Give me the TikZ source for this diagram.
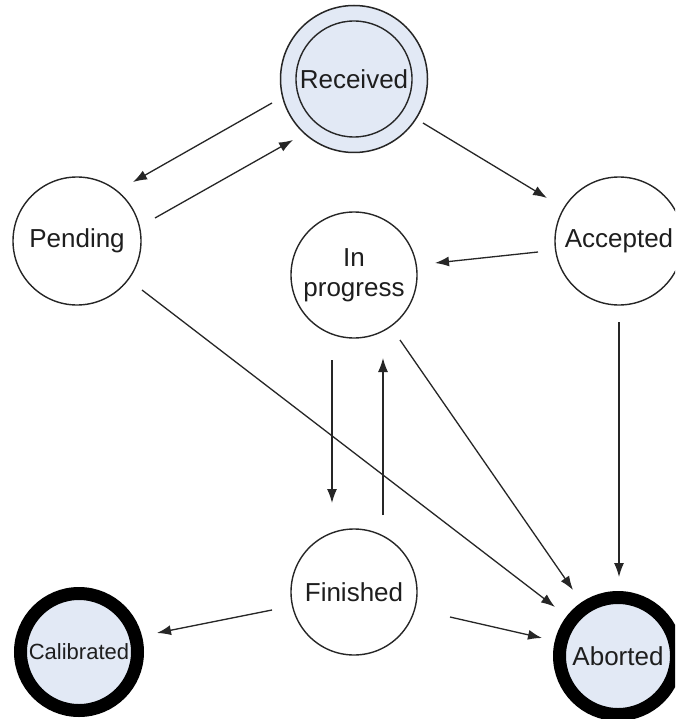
\documentclass[tikz,border=0pt]{standalone}
\usepackage{fontspec}
\setmainfont{Liberation Sans}
\usetikzlibrary{arrows.meta,calc}
\definecolor{stfill}{RGB}{226,233,245}
\definecolor{txt}{RGB}{30,30,30}
\tikzset{
  state/.style={circle,draw=black!85,line width=1.4pt,minimum size=126pt,inner sep=0pt,
    font=\fontsize{26}{30}\selectfont,text=txt,align=center},
  final/.style={circle,draw=black,line width=13pt,fill=stfill,minimum size=117pt,inner sep=0pt,
    font=\fontsize{26}{30}\selectfont,text=txt},
  arr/.style={line width=1.3pt,draw=black!85,-{Latex[length=14pt,width=10pt]}}
}
\begin{document}
\begin{tikzpicture}[x=1pt,y=-1pt]
\clip (0,0) rectangle (675,719);
\fill[white] (0,0) rectangle (675,719);
% nodes
\node[circle,draw=black!85,line width=1.5pt,fill=stfill,minimum size=147pt,inner sep=0pt] (recout) at (354,79) {};
\node[state,fill=stfill,minimum size=116pt] (rec) at (354,79) {Received};
\node[state,minimum size=128pt] (pend) at (77,241) {Pending};
\node[state,minimum size=128pt] (acc) at (619,241) {Accepted};
\node[state] (prog) at (354,275) {In\\progress};
\node[state] (fin) at (354,592) {Finished};
\node[final,font=\fontsize{22}{26}\selectfont] (cal) at (79,652) {Calibrated};
\node[final] (abo) at (618,656) {Aborted};
% connectors
\draw[arr] ($(rec)+(-82,24)$) -- ($(pend)+(56,-59)$);
\draw[arr] ($(pend)+(78,-23)$) -- ($(rec)+(-61,61)$);
\draw[arr] ($(rec)+(69,44)$) -- ($(acc)+(-72,-43)$);
\draw[arr] ($(acc)+(-81,11)$) -- ($(prog)+(81,-12)$);
\draw[arr] ($(prog)+(-22,85)$) -- ($(fin)+(-22,-89)$);
\draw[arr] ($(fin)+(29,-77)$) -- ($(prog)+(29,83)$);
\draw[arr] ($(prog)+(46,65)$) -- ($(abo)+(-45,-66)$);
\draw[arr] ($(pend)+(65,49)$) -- ($(abo)+(-63,-49)$);
\draw[arr] ($(acc)+(0,81)$) -- ($(abo)+(1,-79)$);
\draw[arr] ($(fin)+(-82,18)$) -- ($(cal)+(78,-19)$);
\draw[arr] ($(fin)+(96,25)$) -- ($(abo)+(-76,-18)$);
\end{tikzpicture}
\end{document}
